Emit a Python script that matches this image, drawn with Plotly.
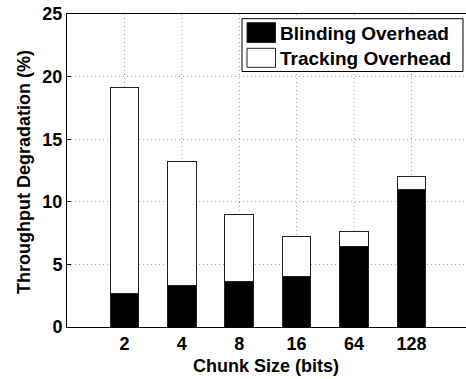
import plotly.graph_objects as go

categories = ["2", "4", "8", "16", "64", "128"]
blinding = [2.7, 3.3, 3.6, 4.05, 6.4, 11.0]
tracking = [16.4, 9.9, 5.4, 3.15, 1.25, 1.0]
y_ticks = [0, 5, 10, 15, 20, 25]

W, H = 466, 379
ML, MR, MT, MB = 67, 0, 14, 52
PW, PH = W - ML - MR, H - MT - MB

xpos = list(range(1, len(categories) + 1))
FONT = "Liberation Sans, Arial, Helvetica, sans-serif"
FS = 18

fig = go.Figure()
fig.add_trace(go.Bar(x=xpos, y=blinding, name="Blinding Overhead", width=0.5,
                     marker=dict(color="black", line=dict(color="#222", width=1)),
                     showlegend=False))
fig.add_trace(go.Bar(x=xpos, y=tracking, name="Tracking Overhead", width=0.5,
                     marker=dict(color="white", line=dict(color="#222", width=1)),
                     showlegend=False))

def px2x(p):
    return (p - ML) / PW

def px2y(p):
    return (H - MB - p) / PH

shapes = []
shapes.append(dict(type="rect", xref="paper", yref="paper",
                   x0=px2x(242), x1=px2x(463), y0=px2y(71.5), y1=px2y(18.7),
                   line=dict(color="black", width=1), fillcolor="white", layer="above"))
shapes.append(dict(type="rect", xref="paper", yref="paper",
                   x0=px2x(247), x1=px2x(275.5), y0=px2y(42.5), y1=px2y(22.7),
                   line=dict(color="#222", width=1), fillcolor="black", layer="above"))
shapes.append(dict(type="rect", xref="paper", yref="paper",
                   x0=px2x(247), x1=px2x(275.5), y0=px2y(67.3), y1=px2y(48.3),
                   line=dict(color="#222", width=1), fillcolor="white", layer="above"))

annotations = [
    dict(text="<b>Blinding Overhead</b>", xref="paper", yref="paper",
         x=px2x(278), y=px2y(33), xanchor="left", yanchor="middle", showarrow=False,
         font=dict(family=FONT, size=FS + 1, color="black")),
    dict(text="<b>Tracking Overhead</b>", xref="paper", yref="paper",
         x=px2x(278), y=px2y(58), xanchor="left", yanchor="middle", showarrow=False,
         font=dict(family=FONT, size=FS + 1, color="black")),
    dict(text="<b>Chunk Size (bits)</b>", xref="paper", yref="paper",
         x=px2x(266), y=px2y(366), xanchor="center", yanchor="middle", showarrow=False,
         font=dict(family=FONT, size=FS, color="black")),
    dict(text="<b>Throughput Degradation (%)</b>", xref="paper", yref="paper",
         x=px2x(24), y=px2y(172), xanchor="center", yanchor="middle", showarrow=False,
         textangle=-90, font=dict(family=FONT, size=FS, color="black")),
]

fig.update_layout(
    barmode="stack",
    width=W, height=H,
    margin=dict(l=ML, r=MR, t=MT, b=MB, pad=0),
    plot_bgcolor="white", paper_bgcolor="white",
    font=dict(family=FONT, size=FS, color="black"),
    shapes=shapes, annotations=annotations,
    showlegend=False,
)
grid = dict(showgrid=True, gridcolor="#aaa", griddash="1px,3px", gridwidth=1)
fig.update_xaxes(
    range=[0, PW / 57.4], tickmode="array", tickvals=xpos,
    ticktext=["<b>%s</b>" % c for c in categories],
    showline=True, linecolor="black", linewidth=1, mirror=True,
    ticks="inside", ticklen=4, tickcolor="black",
    zeroline=False, automargin=False, **grid,
)
fig.update_yaxes(
    range=[0, 25], tickmode="array", tickvals=y_ticks,
    ticktext=["<b>%d</b>" % v for v in y_ticks],
    showline=True, linecolor="black", linewidth=1, mirror=True,
    ticks="inside", ticklen=4, tickcolor="black",
    zeroline=False, automargin=False, **grid,
)

fig.write_html("out.html", config={"displayModeBar": False},
               post_script="document.body.style.margin='0';document.body.style.overflow='hidden';")
